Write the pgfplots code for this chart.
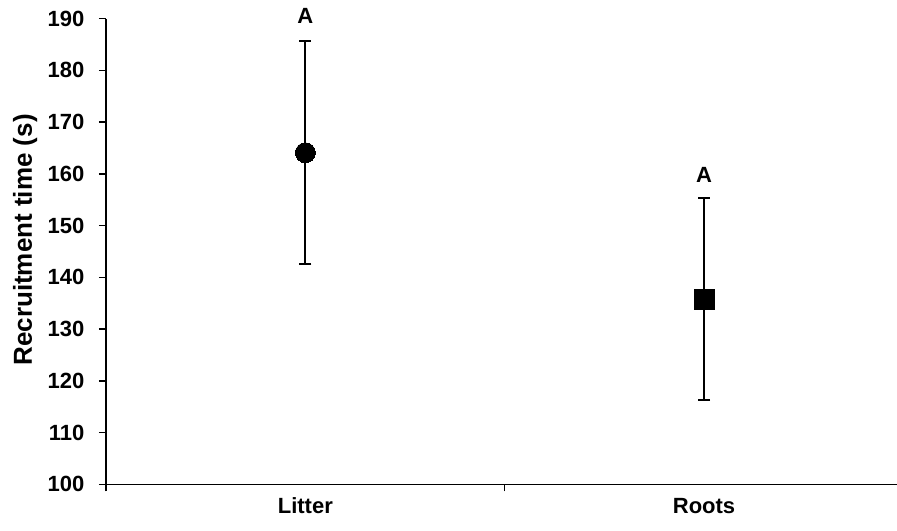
\documentclass[border=0pt]{standalone}
\usepackage{fontspec}
\setmainfont{Liberation Sans}
\usepackage{pgfplots}
\pgfplotsset{compat=1.18}
\begin{document}
\begin{tikzpicture}
\begin{axis}[
  name=ax,
  scale only axis,
  width=797.4pt, height=465.6pt,
  xmin=-0.5, xmax=1.5,
  ymin=100, ymax=190,
  axis lines*=left,
  axis line style={line width=1.5pt},
  clip=false,
  tick align=outside,
  tick style={line width=1.5pt, black},
  major tick length=7pt,
  minor tick length=7pt,
  xtick={0,1},
  xticklabels={Litter,Roots},
  major x tick style={draw=none},
  minor xtick={-0.5,0.5,1.5},
  ytick={100,110,...,190},
  /pgf/number format/assume math mode=true,
  ticklabel style={font=\fontsize{22}{26}\selectfont\bfseries},
  yticklabel style={inner sep=0pt, anchor=east, xshift=-14.4pt},
  xticklabel style={inner sep=0pt, anchor=north, yshift=-6.5pt},
  every error bar/.style={line width=2pt, black},
]
\addplot[only marks, line width=2pt, mark=*, mark size=10pt, mark options={fill=black, draw=black, line width=0pt},
  error bars/.cd, y dir=both, y explicit,
  error bar style={line width=2pt, black},
  error mark options={rotate=90, mark size=6pt, line width=2pt, black}]
  coordinates {(0,164.1) +- (0,21.5)};
\addplot[only marks, line width=2pt, mark=square*, mark size=10pt, mark options={fill=black, draw=black, line width=0pt},
  error bars/.cd, y dir=both, y explicit,
  error bar style={line width=2pt, black},
  error mark options={rotate=90, mark size=6pt, line width=2pt, black}]
  coordinates {(1,135.8) +- (0,19.55)};
\node[font=\fontsize{22}{26}\selectfont\bfseries, inner sep=0pt, anchor=center] at (axis cs:0,190.5) {A};
\node[font=\fontsize{22}{26}\selectfont\bfseries, inner sep=0pt, anchor=center] at (axis cs:1,159.8) {A};
\end{axis}
\node[rotate=90, anchor=base, inner sep=0pt, font=\fontsize{26}{30}\selectfont\bfseries]
  at ([xshift=-74pt,yshift=11.5pt]ax.west) {Recruitment time (s)};
\pgfresetboundingbox
\path[use as bounding box] ([xshift=-106pt,yshift=-46.7pt]ax.south west) rectangle ([xshift=-6.4pt,yshift=18.7pt]ax.north east);
\end{tikzpicture}
\end{document}
